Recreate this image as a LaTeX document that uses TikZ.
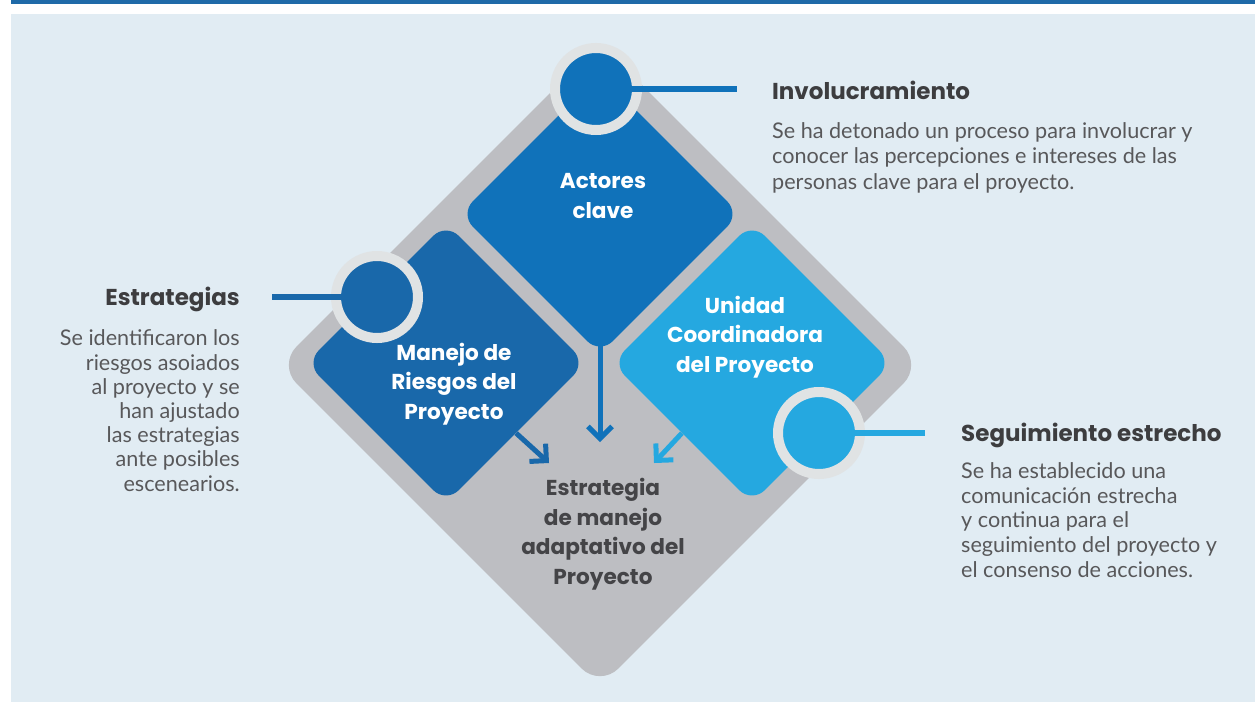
\documentclass[tikz,border=0pt]{standalone}
\usepackage{fontspec}
\setmainfont{Lato}
\newfontfamily\headfont{Poppins}
\usetikzlibrary{shapes.geometric,arrows.meta}
\pgfdeclarelayer{bg}
\pgfsetlayers{bg,main}
\definecolor{pagebg}{HTML}{E1ECF3}
\definecolor{topblue}{HTML}{1F6AA8}
\definecolor{diagray}{HTML}{BDBEC2}
\definecolor{ringgray}{HTML}{E0E3E4}
\definecolor{actblue}{HTML}{1072BA}
\definecolor{manblue}{HTML}{1968AA}
\definecolor{uniblue}{HTML}{25A8E0}
\definecolor{headgray}{HTML}{3D3D3F}
\definecolor{bodygray}{HTML}{58585A}
\definecolor{estgray}{HTML}{444447}
\tikzset{
    diam/.style={diamond, inner sep=0pt, minimum size=280pt, rounded corners=18pt},
    ring/.style={circle, inner sep=0pt, draw=ringgray, line width=10pt, minimum size=82pt},
    conn/.style={line width=6pt},
    arr/.style={line width=5pt, -{Straight Barb[length=12pt, width=24pt]}}
}
\tikzset{
    head/.style={inner sep=0pt, text=headgray, font=\headfont\bfseries\fontsize{23}{28}\selectfont},
    txt/.style={inner sep=0pt, text=bodygray, font=\fontsize{21.6}{24.6}\selectfont},
    dlab/.style={inner sep=0pt, align=center, font=\headfont\bfseries\fontsize{21.6}{29.5}\selectfont}
}

\begin{document}
\begin{tikzpicture}[x=1pt, y=-1pt]
    \useasboundingbox (0,0) rectangle (1255,702);
    \fill[topblue] (11,0) rectangle (1255,3.5);
    \fill[pagebg] (11,14) rectangle (1255,702);

    \node (est) at (600,365) [diamond, inner sep=0pt, minimum size=644pt, rounded corners=26pt, fill=diagray] {};
    \node (act) at (600,214) [diam, fill=actblue] {};
    \node (man) at (446,363) [diam, fill=manblue] {};
    \node (uni) at (752,363) [diam, fill=uniblue] {};

    \coordinate (aAct) at (600,442);
    \coordinate (aMan) at (549,463);
    \coordinate (aUni) at (654,463);
    \draw[arr, actblue] (act.center) -- (aAct);
    \draw[arr, manblue] (man.south east) -- (aMan);
    \draw[arr, uniblue] (uni.south west) -- (aUni);

    \node (cInv) at (596,89) [ring, fill=actblue] {};
    \node (cEst) at (377,297) [ring, fill=manblue] {};
    \node (cSeg) at (819,433) [ring, fill=uniblue] {};

    \coordinate (eInv) at (737,89);
    \coordinate (eEst) at (272,297);
    \coordinate (eSeg) at (925,433);
    \draw[conn, actblue] (cInv.center) -- (eInv);
    \draw[conn, manblue] (cEst.center) -- (eEst);
    \draw[conn, uniblue] (cSeg.center) -- (eSeg);

    \node (lAct) at (603,218) [dlab, text=white, anchor=base] {Actores\\clave};
    \node (lMan) at (454,419) [dlab, text=white, anchor=base] {Manejo de\\Riesgos del\\Proyecto};
    \node (lUni) at (745,372) [dlab, text=white, anchor=base] {Unidad\\Coordinadora\\del Proyecto};
    \node (lEst) at (603,584) [dlab, text=estgray, anchor=base] {Estrategia\\de manejo\\adaptativo del\\Proyecto};

    \node (hInv) at (772,99) [head, anchor=base west] {Involucramiento};
    \node (bInv) at (772,189) [txt, align=left, anchor=base west, font=\fontsize{21.6}{25.5}\selectfont] {Se ha detonado un proceso para involucrar y\\conocer las percepciones e intereses de las\\personas clave para el proyecto.};
    \node (hEst) at (240,305) [head, anchor=base east] {Estrategias};
    \node (bEst) at (240,491) [txt, align=right, anchor=base east, font=\fontsize{21.6}{24.2}\selectfont] {Se identificaron los\\riesgos asoiados\\al proyecto y se\\han ajustado\\las estrategias\\ante posibles\\escenearios.};
    \node (hSeg) at (961,441) [head, anchor=base west] {Seguimiento estrecho};
    \node (bSeg) at (961,577) [txt, align=left, anchor=base west] {Se ha establecido una\\comunicación estrecha\\y continua para el\\seguimiento del proyecto y\\el consenso de acciones.};
\end{tikzpicture}
\end{document}
